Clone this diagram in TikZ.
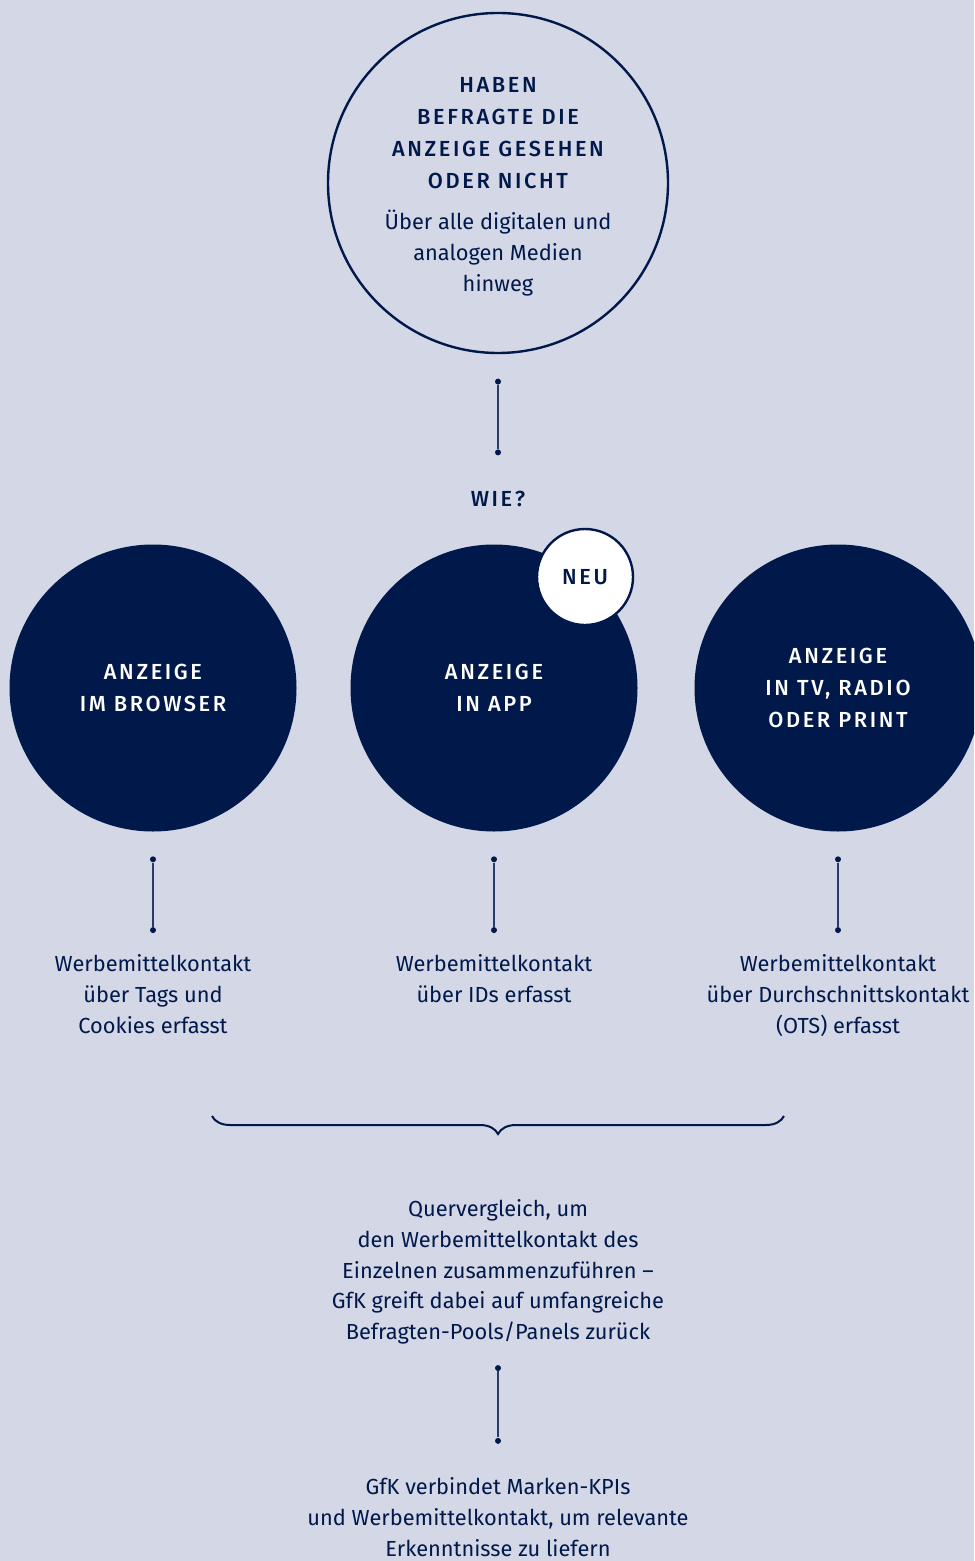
\documentclass[tikz,border=0pt]{standalone}
\usepackage{fontspec}
\setmainfont{Fira Sans}
\newfontfamily\capsfont[LetterSpace=12]{Fira Sans Medium}
\usetikzlibrary{positioning,decorations.pathreplacing,calc}
\definecolor{bgblue}{HTML}{D3D7E6}
\definecolor{navy}{HTML}{00184A}

\begin{document}
\begin{tikzpicture}[x=0.5pt, y=-0.5pt, node distance=12pt]
	\tikzset{
		ringnode/.style={circle, draw=navy, line width=1.2pt, minimum size=170pt, inner sep=0pt},
		fillnode/.style={circle, fill=navy, minimum size=143.5pt, inner sep=0pt, text=white, align=center, font=\capsfont\fontsize{10.9}{16}\selectfont},
		badgenode/.style={circle, fill=white, draw=navy, line width=1.2pt, minimum size=48pt, inner sep=0pt, text=navy, font=\capsfont\fontsize{10.9}{16}\selectfont},
		capslabel/.style={inner sep=0pt, align=center, text=navy, font=\capsfont\fontsize{10.9}{16}\selectfont},
		bodylabel/.style={inner sep=0pt, align=center, text=navy, font=\fontsize{10.9}{15.4}\selectfont},
		dotnode/.style={circle, fill=navy, inner sep=0pt, minimum size=3pt},
		myline/.style={draw=navy!85, line width=0.6pt},
		mybrace/.style={decorate, decoration={brace, amplitude=9pt, mirror}, draw=navy, line width=1pt}
	}
	\useasboundingbox (0,0) rectangle (974,1561);
	\fill[bgblue] (0,0) rectangle (974,1561);
	\clip (0,0) rectangle (974,1561);

	% top question
	\node[ringnode] (question) at (498,183) {};
	\node[capslabel] (qhead) at (498,133) {HABEN\\BEFRAGTE DIE\\ANZEIGE GESEHEN\\ODER NICHT};
	\node[bodylabel] (qbody) at (498,253) {Über alle digitalen und\\analogen Medien\\hinweg};

	\node[dotnode, below=of question] (d0a) {};
	\node[dotnode, below=32pt of d0a] (d0b) {};
	\draw[myline] (d0a) -- (d0b);
	\node[capslabel, below=17.5pt of d0b] (wie) {WIE?};

	% three channels
	\node[fillnode] (browser) at (153,688) {ANZEIGE\\IM BROWSER};
	\node[fillnode] (app) at (494,688) {ANZEIGE\\IN APP};
	\node[fillnode] (tv) at (838,688) {ANZEIGE\\IN TV, RADIO\\ODER PRINT};
	\node[badgenode] (neu) at (585,577) {NEU};

	\node[dotnode, below=of browser] (d1a) {};
	\node[dotnode, below=32pt of d1a] (d1b) {};
	\node[dotnode, below=of app] (d2a) {};
	\node[dotnode, below=32pt of d2a] (d2b) {};
	\node[dotnode, below=of tv] (d3a) {};
	\node[dotnode, below=32pt of d3a] (d3b) {};
	\draw[myline] (d1a) -- (d1b);
	\draw[myline] (d2a) -- (d2b);
	\draw[myline] (d3a) -- (d3b);

	\node[bodylabel, below=10.5pt of d1b] (browsertxt) {Werbemittelkontakt\\über Tags und\\Cookies erfasst};
	\node[bodylabel, below=10.5pt of d2b] (apptxt) {Werbemittelkontakt\\über IDs erfasst};
	\node[bodylabel, below=10.5pt of d3b] (tvtxt) {Werbemittelkontakt\\über Durchschnittskontakt\\(OTS) erfasst};

	% merge
	\coordinate (bl) at (212,1116);
	\coordinate (br) at (784,1116);
	\coordinate (tip) at (498,1134);
	\draw[mybrace] (bl) -- (br);

	\node[bodylabel, below=32.5pt of tip] (merge) {Quervergleich, um\\den Werbemittelkontakt des\\Einzelnen zusammenzuführen --\\GfK greift dabei auf umfangreiche\\Befragten-Pools/Panels zurück};

	\node[dotnode, below=10pt of merge] (d4a) {};
	\node[dotnode, below=33pt of d4a] (d4b) {};
	\draw[myline] (d4a) -- (d4b);

	\node[bodylabel, below=16.5pt of d4b] (result) {GfK verbindet Marken-KPIs\\und Werbemittelkontakt, um relevante\\Erkenntnisse zu liefern};
\end{tikzpicture}
\end{document}
